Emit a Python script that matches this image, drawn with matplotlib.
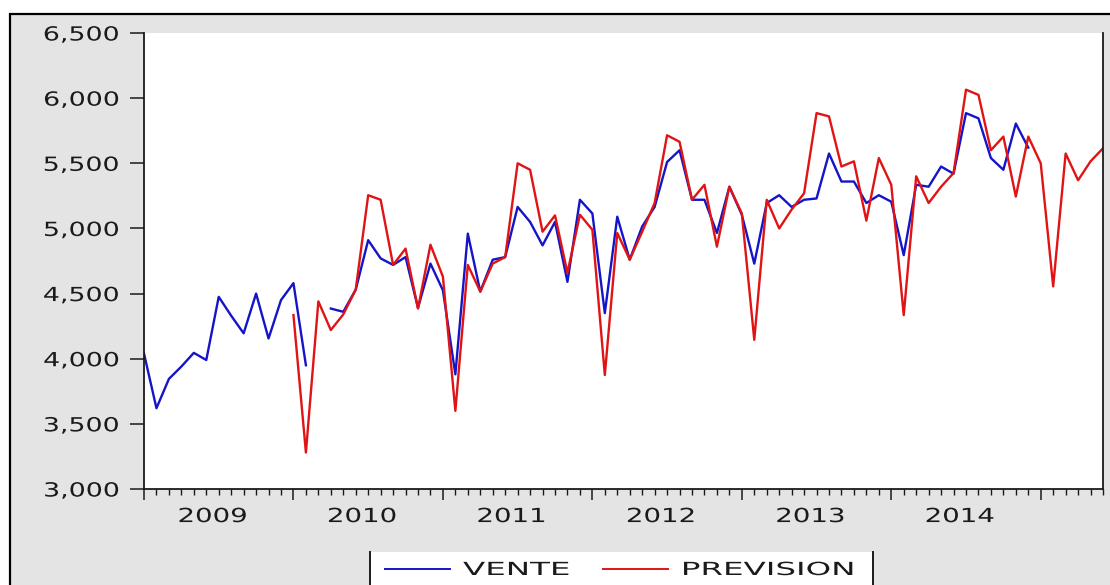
"""VENTE vs PREVISION monthly series, EViews-style line chart."""
import numpy as np
import pandas as pd
import matplotlib
matplotlib.use("Agg")
import matplotlib.pyplot as plt
from matplotlib.lines import Line2D
from matplotlib.patches import Rectangle
from matplotlib.patheffects import AbstractPathEffect
from matplotlib.ticker import StrMethodFormatter
from matplotlib.transforms import Affine2D

nan = np.nan

MONTHS = pd.period_range("2009-01", "2015-06", freq="M")
YEARS = [2009, 2010, 2011, 2012, 2013, 2014]
Y_TICKS = [3000, 3500, 4000, 4500, 5000, 5500, 6000, 6500]

# observed sales, 2009M01 .. 2014M12 (NA in 2010M03)
VENTE = [4040, 3620, 3845, 3940, 4045, 3990, 4475, 4330, 4195, 4500, 4155, 4450,
         4580, 3950, nan, 4385, 4360, 4530, 4910, 4770, 4720, 4780, 4390, 4730,
         4525, 3880, 4960, 4515, 4760, 4780, 5165, 5050, 4870, 5050, 4590, 5220,
         5115, 4350, 5090, 4760, 5015, 5165, 5510, 5600, 5220, 5220, 4965, 5320,
         5105, 4730, 5195, 5255, 5165, 5220, 5230, 5575, 5360, 5360, 5195, 5255,
         5205, 4795, 5335, 5320, 5475, 5420, 5885, 5845, 5540, 5450, 5805, 5620]

# forecast, starts 2010M01 and runs to 2015M06
PREVISION = [nan] * 12 + [
    4335, 3280, 4440, 4220, 4340, 4530, 5255, 5220, 4720, 4845, 4385, 4875,
    4630, 3600, 4720, 4515, 4730, 4780, 5500, 5450, 4975, 5100, 4660, 5105,
    4990, 3875, 4965, 4760, 4975, 5195, 5715, 5665, 5220, 5335, 4860, 5320,
    5115, 4145, 5220, 5000, 5145, 5270, 5885, 5860, 5475, 5515, 5060, 5540,
    5335, 4335, 5400, 5195, 5320, 5425, 6065, 6025, 5600, 5705, 5245, 5705,
    5500, 4555, 5575, 5370, 5515, 5615]

BLUE = "#1414c8"
RED = "#e01414"
GREY_BG = "#e4e4e4"
INK = "#1a1a1a"


class Stretch(AbstractPathEffect):
    """Widen glyphs horizontally (EViews font is much wider than DejaVu)."""

    def __init__(self, sx, anchor="center"):
        super().__init__()
        self.sx = sx
        self.anchor = anchor

    def draw_path(self, renderer, gc, tpath, affine, rgbFace=None):
        ext = tpath.get_extents(affine)
        if self.anchor == "left":
            x0 = affine.transform((0, 0))[0]
        elif self.anchor == "right":
            x0 = ext.x1
        else:
            x0 = 0.5 * (ext.x0 + ext.x1)
        t = affine + Affine2D().translate(-x0, 0).scale(self.sx, 1).translate(x0, 0)
        renderer.draw_path(gc, tpath, t, rgbFace)


def main():
    W, H = 1110, 585
    fig = plt.figure(figsize=(W / 100, H / 100), dpi=100, facecolor="white")

    # grey EViews frame
    fig.add_artist(Rectangle((10 / W, -0.1), 1.2, (H - 14) / H + 0.1,
                             transform=fig.transFigure, facecolor=GREY_BG,
                             edgecolor="black", linewidth=1.6, zorder=-2))

    ax = fig.add_axes([144 / W, 96 / H, 959 / W, 456 / H])
    ax.set_facecolor("white")

    x = np.arange(len(MONTHS))
    vente = np.array(VENTE + [nan] * (len(MONTHS) - len(VENTE)), dtype=float)
    prev = np.array(PREVISION, dtype=float)

    ax.plot(x, vente, color=BLUE, linewidth=1.7)
    ax.plot(x, prev, color=RED, linewidth=1.7)

    ax.set_xlim(x[0], x[-1])
    ax.set_ylim(Y_TICKS[0], Y_TICKS[-1])

    ax.set_yticks(Y_TICKS)
    ax.yaxis.set_major_formatter(StrMethodFormatter("{x:,.0f}"))
    ax.tick_params(axis="y", length=10, width=1.1, pad=8, labelsize=14,
                   labelcolor=INK, color=INK)

    year_starts = x[np.asarray(MONTHS.month) == 1]
    ax.set_xticks(year_starts, labels=[""] * len(year_starts))
    ax.set_xticks(x, minor=True)
    ax.tick_params(axis="x", which="major", length=8, width=1.1, color=INK)
    ax.tick_params(axis="x", which="minor", length=4, width=1.0, color=INK)

    for side in ("left", "bottom", "right"):
        ax.spines[side].set_linewidth(1.3)
        ax.spines[side].set_color(INK)
    ax.spines["top"].set_visible(False)

    # year labels centred in each year
    sec = ax.secondary_xaxis("bottom")
    centers = [x[np.asarray(MONTHS.year) == y].mean() for y in YEARS]
    sec.set_xticks(centers, labels=[str(y) for y in YEARS])
    sec.tick_params(length=0, pad=13, labelsize=14, labelcolor=INK)
    sec.spines["bottom"].set_visible(False)

    for t in ax.get_yticklabels():
        t.set_path_effects([Stretch(1.38, "right")])
    for t in sec.get_xticklabels():
        t.set_path_effects([Stretch(1.42, "center")])

    # legend box at the bottom (cut by the image edge)
    top = (H - 552) / H
    fig.add_artist(Rectangle((370 / W, -0.05), 503 / W, top + 0.05,
                             transform=fig.transFigure, facecolor="white",
                             edgecolor="none", zorder=3))
    for xe in (370, 873):
        fig.add_artist(Line2D([xe / W, xe / W], [0, top], transform=fig.transFigure,
                              color=INK, linewidth=1.4, zorder=4))

    handles = [Line2D([], [], color=BLUE, linewidth=1.4),
               Line2D([], [], color=RED, linewidth=1.4)]
    leg = fig.legend(handles, ["VENTE", "PREVISION"], loc="center left",
                     bbox_to_anchor=(385 / W, 15 / H), ncol=2, frameon=False,
                     fontsize=13, handlelength=3.6, handletextpad=0.72,
                     columnspacing=4.45, borderpad=0, borderaxespad=0)
    leg.set_zorder(5)
    for t in leg.get_texts():
        t.set_color(INK)
        t.set_path_effects([Stretch(1.8, "left")])

    fig.savefig("out.png", dpi=100, facecolor="white")


if __name__ == "__main__":
    main()
